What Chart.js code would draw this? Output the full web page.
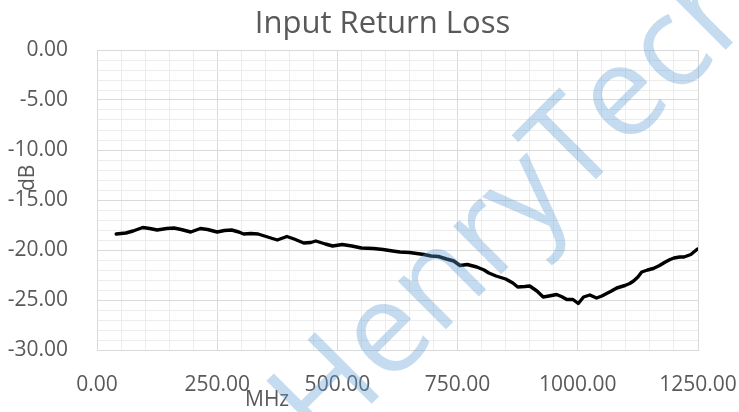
<!DOCTYPE html>
<html>
<head>
<meta charset="utf-8">
<script src="https://cdn.jsdelivr.net/npm/chart.js@4/dist/chart.umd.min.js"></script>
<style>
  html, body { margin: 0; padding: 0; background: #fff; }
  #wrap { position: relative; width: 739px; height: 412px; overflow: hidden; font-family: "Open Sans", sans-serif; color: #595959; }
  #wrap canvas { position: absolute; left: 0; top: 0; }
  .lbl { position: absolute; white-space: nowrap; line-height: 1; }
  #title { left: 0; width: 765px; top: 6px; text-align: center; font-size: 31px; }
  #xTitle { left: 245px; top: 388px; font-size: 21px; }
  #yTitle { left: 16px; top: 191px; font-size: 21px; transform: rotate(-90deg); transform-origin: 0 0; }
  #mark { left: 321px; top: 341px; font-size: 127px; line-height: 1; color: rgba(91, 155, 213, 0.36);
          transform-origin: 0 112px; transform: rotate(-45deg); pointer-events: none; z-index: 2; }
</style>
</head>
<body>
<div id="wrap">
  <canvas id="chart"></canvas>
  <div class="lbl" id="title">Input Return Loss</div>
  <div class="lbl" id="xTitle">MHz</div>
  <div class="lbl" id="yTitle">dB</div>
  <div class="lbl" id="mark">HenryTech</div>
</div>
<script>
// Input return loss sweep (MHz -> dB).
const FREQ = [
  40, 60, 75, 95, 110, 125, 145, 160, 175, 195, 215, 230, 250, 265, 280, 295,
  305, 320, 335, 355, 375, 395, 410, 430, 445, 455, 475, 490, 510, 530, 550,
  575, 595, 615, 630, 650, 665, 680, 695, 710, 727, 742, 755, 770, 790, 805,
  815, 830, 850, 865, 875, 890, 900, 915, 928, 940, 956, 968, 977, 990, 1001,
  1012, 1025, 1039, 1050, 1060, 1070, 1081, 1098, 1108, 1116, 1125, 1133, 1145,
  1157, 1170, 1182, 1192, 1200, 1212, 1221, 1235, 1249
];
const DB = [
  -18.4, -18.3, -18.1, -17.75, -17.85, -18.0, -17.85, -17.8, -17.95, -18.2, -17.85, -17.95, -18.2, -18.05, -18.0, -18.2,
  -18.4, -18.35, -18.4, -18.7, -19.0, -18.65, -18.9, -19.3, -19.25, -19.1, -19.4, -19.6, -19.45, -19.6, -19.8,
  -19.85, -19.95, -20.1, -20.2, -20.25, -20.35, -20.45, -20.6, -20.65, -20.9, -21.1, -21.55, -21.45, -21.7, -22.0,
  -22.3, -22.6, -22.9, -23.3, -23.7, -23.65, -23.6, -24.1, -24.7, -24.6, -24.45, -24.7, -24.95, -24.95, -25.35,
  -24.7, -24.5, -24.8, -24.6, -24.35, -24.1, -23.8, -23.55, -23.35, -23.1, -22.7, -22.2, -22.0,
  -21.85, -21.55, -21.2, -20.95, -20.8, -20.7, -20.7, -20.45, -19.9
];
const X_MIN = 0, X_MAX = 1250, X_MAJOR = 250, X_MINOR = 50;
const Y_MIN = -30, Y_MAX = 0, Y_MAJOR = 5, Y_MINOR = 1;

const C = { text: "#595959", major: "#d9d9d9", minor: "#ececec", line: "#000000" };
const FONT = { family: "'Open Sans', sans-serif", size: 21 };

function gridColor(major) {              // major vs minor gridline, Excel-style
  return (ctx) => (ctx.tick && Math.abs(ctx.tick.value % major) < 1e-9 ? C.major : C.minor);
}

new Chart(document.getElementById("chart"), {
  type: "scatter",
  data: {
    datasets: [{
      data: FREQ.map((f, i) => ({ x: f, y: DB[i] })),
      showLine: true, borderColor: C.line, borderWidth: 3.4,
      pointRadius: 0, tension: 0, borderJoinStyle: "round", borderCapStyle: "round"
    }]
  },
  options: {
    responsive: true,
    maintainAspectRatio: false,
    animation: false,
    layout: { padding: { top: 50, right: 0, bottom: 0, left: 0 } },
    plugins: { legend: { display: false }, tooltip: { enabled: false } },
    scales: {
      x: {
        type: "linear", min: X_MIN, max: X_MAX,
        // fixed plot box: right edge at 698px, axis band 62px tall
        afterFit: (s) => { s.height = 62; s.paddingRight = 41; s.paddingLeft = 0; },
        border: { color: C.major },
        grid: { color: gridColor(X_MAJOR), drawTicks: false },
        ticks: {
          stepSize: X_MINOR, autoSkip: false, maxRotation: 0, padding: 22,
          color: C.text, font: FONT,
          callback: (v) => (v % X_MAJOR === 0 ? v.toFixed(2) : "")
        }
      },
      y: {
        min: Y_MIN, max: Y_MAX,
        afterFit: (s) => { s.width = 97; },
        border: { color: C.major },
        grid: { color: gridColor(Y_MAJOR), drawTicks: false },
        ticks: {
          stepSize: Y_MINOR, autoSkip: false, padding: 29,
          color: C.text, font: FONT,
          callback: (v) => (v % Y_MAJOR === 0 ? v.toFixed(2) : "")
        }
      }
    }
  }
});
</script>
</body>
</html>
